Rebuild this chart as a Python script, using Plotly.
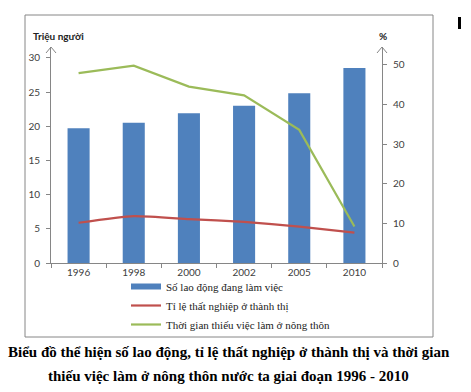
import plotly.graph_objects as go

years = ["1996", "1998", "2000", "2002", "2005", "2010"]
lao_dong = [19.7, 20.5, 21.9, 23.0, 24.8, 28.5]          # triệu người
that_nghiep = [5.88, 6.85, 6.42, 6.01, 5.31, 4.43]       # %
thieu_viec = [47.9, 49.8, 44.5, 42.3, 33.6, 9.2]         # %
left_ticks = [0, 5, 10, 15, 20, 25, 30]
right_ticks = [0, 10, 20, 30, 40, 50]

names = ["Số lao động đang làm việc", "Tỉ lệ thất nghiệp ở thành thị",
         "Thời gian thiếu việc làm ở nông thôn"]
BLUE, RED, GREEN = "#4F81BD", "#C0504D", "#9BBB59"
AX = "#868686"

W, H = 471, 392
L, R, T, B = 51, 382, 47, 263

fig = go.Figure()
fig.add_trace(go.Bar(x=years, y=lao_dong, marker=dict(color=BLUE, line=dict(width=0)),
                     width=0.4, showlegend=False, legendgroup="a", name=names[0]))
fig.add_trace(go.Scatter(x=[None], y=[None], mode="lines", line=dict(color=BLUE, width=6),
                         name=names[0], legendgroup="a"))
fig.add_trace(go.Scatter(x=years, y=that_nghiep, mode="lines",
                         line=dict(color=RED, width=2.2, shape="spline", smoothing=0.5),
                         name=names[1]))
fig.add_trace(go.Scatter(x=years, y=thieu_viec, mode="lines", yaxis="y2",
                         line=dict(color=GREEN, width=2.2), name=names[2]))

tickfont = dict(family="Lato, Open Sans, sans-serif", size=10, color="#404040")
pw, ph = R - L, B - T
fig.update_layout(
    width=W, height=H,
    margin=dict(l=L, r=W - R, t=T, b=H - B, pad=0, autoexpand=False),
    paper_bgcolor="white", plot_bgcolor="white",
    bargap=0.6,
    xaxis=dict(type="category", range=[-0.5, 5.5], showline=True, linecolor=AX, linewidth=1,
               ticks="outside", tickson="boundaries", ticklen=4, tickcolor=AX,
               tickfont=tickfont, showgrid=False, zeroline=False, automargin=False),
    yaxis=dict(range=[0, 31.58], tickvals=left_ticks, showline=True, linecolor=AX, linewidth=1,
               ticks="outside", ticklen=4, tickcolor=AX, tickfont=tickfont,
               showgrid=False, zeroline=False, ticklabelstandoff=4, automargin=False),
    yaxis2=dict(range=[0, 54.5], tickvals=right_ticks, overlaying="y", side="right",
                showline=True, linecolor=AX, linewidth=1, ticks="outside", ticklen=4,
                tickcolor=AX, tickfont=tickfont, showgrid=False, zeroline=False,
                ticklabelstandoff=4, automargin=False),
    legend=dict(x=(126 - L) / pw, xanchor="left", y=-(272 - B) / ph, yanchor="top",
                font=dict(family="Liberation Serif, Times New Roman, serif", size=11, color="#222"),
                bgcolor="rgba(0,0,0,0)", tracegroupgap=0, itemwidth=30),
)

def px(xp):
    return (xp - L) / pw

def py(yp):
    return (B - yp) / ph

shapes = [
    dict(type="rect", xref="paper", yref="paper", x0=px(25), x1=px(433), y0=py(337), y1=py(15),
         line=dict(color=AX, width=1)),
    dict(type="path", xref="paper", yref="paper",
         path=f"M {px(46)},{py(53)} L {px(51)},{py(47)} L {px(56)},{py(53)}",
         line=dict(color=AX, width=1)),
    dict(type="path", xref="paper", yref="paper",
         path=f"M {px(377)},{py(53)} L {px(382)},{py(47)} L {px(387)},{py(53)}",
         line=dict(color=AX, width=1)),
    dict(type="rect", xref="paper", yref="paper", x0=px(458), x1=px(461), y0=py(29), y1=py(17),
         fillcolor="black", line=dict(width=0)),
]
fig.update_layout(shapes=shapes)

lab = dict(family="Lato, Open Sans, sans-serif", size=10, color="#222")
title_font = dict(family="Liberation Serif, Times New Roman, serif", size=15, color="black")
fig.update_layout(annotations=[
    dict(text="<b>Triệu người</b>", xref="paper", yref="paper", x=px(58), y=py(36),
         xanchor="center", yanchor="middle", showarrow=False, font=lab),
    dict(text="<b>%</b>", xref="paper", yref="paper", x=px(383), y=py(36),
         xanchor="center", yanchor="middle", showarrow=False, font=lab),
    dict(text="<b>Biểu đồ thể hiện số lao động, tỉ lệ thất nghiệp ở thành thị và thời gian</b>",
         xref="paper", yref="paper", x=px(229), y=py(352), xanchor="center", yanchor="middle",
         showarrow=False, font=title_font),
    dict(text="<b>thiếu việc làm ở nông thôn nước ta giai đoạn 1996 - 2010</b>",
         xref="paper", yref="paper", x=px(228), y=py(376), xanchor="center", yanchor="middle",
         showarrow=False, font=title_font),
])

fig.write_html("out.html", config={"displayModeBar": False},
               post_script="document.body.style.margin='0';")
